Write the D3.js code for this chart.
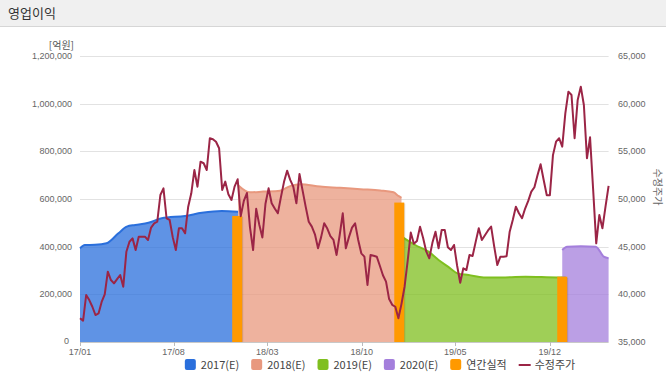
<!DOCTYPE html>
<html>
<head>
<meta charset="utf-8" />
<title>영업이익</title>
<script src="https://cdn.jsdelivr.net/npm/d3@7"></script>
<style>
body { margin:0; background:#fff; }
svg { display:block; font-family:"Liberation Sans", Arial, sans-serif; }
.kr { font-family:"Noto Sans CJK KR", sans-serif; }
</style>
</head>
<body>
<div id="chart"></div>
<script>
// ---- data ----
const title = "영업이익";
const xTickLabels = ["17/01","17/08","18/03","18/10","19/05","19/12"];
const leftTicks = [0,200000,400000,600000,800000,1000000,1200000];
const rightTicks = [35000,40000,45000,50000,55000,60000,65000];

const e2017Dates = ["2017-01-01","2017-01-12","2017-02-04","2017-03-02","2017-03-29","2017-04-17","2017-05-06","2017-06-05","2017-07-05","2017-08-27","2017-10-04","2017-11-18","2017-12-25"];
const e2017Values = [393000,407000,408000,414000,456000,484000,491000,500000,519000,529000,542000,550000,547000];

const e2018Dates = ["2017-12-25","2018-01-21","2018-02-20","2018-03-30","2018-04-22","2018-05-15","2018-06-29","2018-08-13","2018-09-28","2018-11-12","2018-12-12","2018-12-23","2018-12-30"];
const e2018Values = [658000,628000,631000,635000,654000,662000,652000,647000,641000,636000,628000,613000,605000];

const e2019Dates = ["2019-01-01","2019-01-30","2019-03-01","2019-03-24","2019-04-15","2019-05-06","2019-05-31","2019-07-04","2019-08-22","2019-10-07","2019-12-18","2020-01-06"];
const e2019Values = [440000,407000,379000,344000,315000,288000,281000,271000,271000,274000,271000,272000];

const e2020Dates = ["2019-12-29","2020-01-09","2020-02-09","2020-03-14","2020-04-01","2020-04-12"];
const e2020Values = [386000,400000,402000,400000,358000,351000];

const actualDates = ["2017-12-23","2018-12-25","2019-12-29"];
const actualValues = [529000,585000,274000];

// weekly adjusted close, first week 2017-01-01
const priceStart = "2017-01-01";
const priceValues = [
37490,37240,39930,39400,38700,37830,38000,39200,40000,42380,41500,41150,41600,42030,40800,44470,
45520,45870,44650,46050,46050,46050,45700,47000,47450,47620,50420,51120,47980,47800,46000,44650,
46930,46930,46400,49190,50600,53040,51290,53910,53750,53040,56370,56260,56000,55320,50950,51820,
50500,49900,51300,52070,48200,49800,50630,47000,44650,48970,47300,45960,49500,51120,49550,49000,
48500,50200,51800,52970,52000,51290,49550,52620,50900,49200,47620,47100,46300,44830,46000,47450,
46900,46100,45700,44130,46200,48500,44830,46000,47000,47450,45700,44300,43950,40980,44130,44050,
43950,43000,42000,41330,39500,38900,38700,37490,39000,40800,43500,46480,45300,45600,47100,45900,
44500,43780,45400,46570,44830,46750,46750,44940,44650,45180,43000,41220,42730,42550,44130,44020,
45500,46930,45700,46200,46700,47100,45000,43080,43950,43950,44000,46570,47800,49190,48500,47980,
49000,49800,50770,51230,52500,53650,52000,50400,50400,54600,56010,56370,55490,58990,61260,60910,
56370,60390,61780,59860,54270,56470,51000,45350,48320,46930,49200,51370
];

const seriesNames = ["2017(E)","2018(E)","2019(E)","2020(E)","연간실적","수정주가"];
const seriesColors = ["#2a6fdc","#e8987e","#7fbf1f","#a47fdc","#ff9900","#9b2546"];

// ---- chart ----
const W = 666, H = 372;
const parse = d3.utcParse("%Y-%m-%d");
const parseTick = d3.utcParse("%y/%m");

const svg = d3.select("#chart").append("svg")
	.attr("width", W)
	.attr("height", H);

// header band
svg.append("rect").attr("x",0).attr("y",0).attr("width",W).attr("height",26).attr("fill","#f0f0f0");
svg.append("line").attr("x1",0).attr("x2",W).attr("y1",26.5).attr("y2",26.5).attr("stroke","#d6d6d6");
svg.append("text").attr("class","kr").attr("x",8).attr("y",18)
	.attr("font-size",13).attr("fill","#333").text(title);

const x = d3.scaleUtc()
	.domain([parse("2017-01-01"), parse("2020-04-12")])
	.range([80, 608.6]);
const yL = d3.scaleLinear().domain([0,1200000]).range([342,56]);
const yR = d3.scaleLinear().domain([35000,65000]).range([342,56]);

// grid
svg.append("g").selectAll("line")
	.data(leftTicks)
	.enter().append("line")
		.attr("x1",80).attr("x2",608.6)
		.attr("y1",d=>Math.round(yL(d))+0.5).attr("y2",d=>Math.round(yL(d))+0.5)
		.attr("stroke",d=>d===0?"#c8c8c8":"#e2e2e2");

// left axis labels
svg.append("g").selectAll("text")
	.data(leftTicks)
	.enter().append("text")
		.attr("x",d=>d===0?69:72).attr("y",d=>d===0?yL(d)-1:yL(d)).attr("dy","0.35em")
		.attr("text-anchor","end").attr("font-size",9).attr("fill","#666")
		.text(d=>d3.format(",")(d));
svg.append("text").attr("class","kr").attr("x",74).attr("y",49)
	.attr("text-anchor","end").attr("font-size",10).attr("fill","#555").text("[억원]");

// right axis labels
svg.append("g").selectAll("text")
	.data(rightTicks)
	.enter().append("text")
		.attr("x",618).attr("y",d=>yR(d)).attr("dy","0.35em")
		.attr("font-size",9).attr("fill","#666")
		.text(d=>d3.format(",")(d));
svg.append("text").attr("class","kr")
	.attr("transform","translate(654,187) rotate(90)")
	.attr("text-anchor","middle").attr("font-size",10).attr("fill","#666").text("수정주가");

// x axis
const xg = svg.append("g");
xg.selectAll("line")
	.data(xTickLabels)
	.enter().append("line")
		.attr("x1",d=>Math.round(x(parseTick(d)))+0.5).attr("x2",d=>Math.round(x(parseTick(d)))+0.5)
		.attr("y1",342).attr("y2",346).attr("stroke","#bbb");
xg.selectAll("text")
	.data(xTickLabels)
	.enter().append("text")
		.attr("x",d=>x(parseTick(d))).attr("y",352).attr("dy","0.35em")
		.attr("text-anchor","middle").attr("font-size",9).attr("fill","#666")
		.text(d=>d);

// estimate areas
const estimates = [
	{dates:e2017Dates, values:e2017Values, color:seriesColors[0]},
	{dates:e2018Dates, values:e2018Values, color:seriesColors[1]},
	{dates:e2019Dates, values:e2019Values, color:seriesColors[2]},
	{dates:e2020Dates, values:e2020Values, color:seriesColors[3]}
];
const area = d3.area().curve(d3.curveMonotoneX)
	.x(d=>x(d.date)).y0(yL(0)).y1(d=>yL(d.value));
const topLine = d3.line().curve(d3.curveMonotoneX)
	.x(d=>x(d.date)).y(d=>yL(d.value));

const areaLayer = svg.append("g");
estimates.forEach(function(s){
	const pts = s.dates.map((d,i)=>({date:parse(d), value:s.values[i]}));
	areaLayer.append("path").datum(pts)
		.attr("d",area).attr("fill",s.color).attr("fill-opacity",0.75);
	areaLayer.append("path").datum(pts)
		.attr("d",topLine).attr("fill","none").attr("stroke",s.color).attr("stroke-width",2);
});

// annual actuals
const bars = svg.append("g").selectAll("g")
	.data(actualDates.map((d,i)=>({date:parse(d), value:actualValues[i]})))
	.enter().append("g");
bars.append("rect")
	.attr("x",d=>x(d.date)+3).attr("width",3)
	.attr("y",d=>yL(d.value)+1).attr("height",d=>yL(0)-yL(d.value)-1)
	.attr("fill","#000").attr("fill-opacity",0.12);
bars.append("rect")
	.attr("x",d=>x(d.date)-5).attr("width",10)
	.attr("y",d=>yL(d.value)).attr("height",d=>yL(0)-yL(d.value))
	.attr("fill",seriesColors[4]);

// price line
const priceData = priceValues.map((v,i)=>({date:d3.utcDay.offset(parse(priceStart), 7*i), value:v}));
svg.append("path").datum(priceData)
	.attr("d", d3.line().x(d=>x(d.date)).y(d=>yR(d.value)))
	.attr("fill","none").attr("stroke",seriesColors[5]).attr("stroke-width",2)
	.attr("stroke-linejoin","round");

// legend
const legend = svg.append("g").attr("class","kr");
const items = legend.selectAll("g").data(seriesNames).enter().append("g");
items.each(function(d,i){
	const g = d3.select(this);
	if (i < 5) {
		g.append("rect").attr("x",0).attr("y",-6).attr("width",11).attr("height",11)
			.attr("rx",2).attr("fill",seriesColors[i]);
	} else {
		g.append("line").attr("x1",0).attr("x2",12).attr("y1",0).attr("y2",0)
			.attr("stroke",seriesColors[i]).attr("stroke-width",2);
	}
	g.append("text").attr("x",16).attr("y",0).attr("dy","0.35em")
		.attr("font-size",11).attr("fill","#444").text(d);
});
let lx = 0;
const widths = [];
items.each(function(){ widths.push(this.getBBox().width); });
items.attr("transform",function(d,i){
	const t = "translate(" + lx + ",0)";
	lx += widths[i] + 12;
	return t;
});
const total = lx - 12;
legend.attr("transform","translate(" + (380 - total/2) + ",365)");
</script>
</body>
</html>
